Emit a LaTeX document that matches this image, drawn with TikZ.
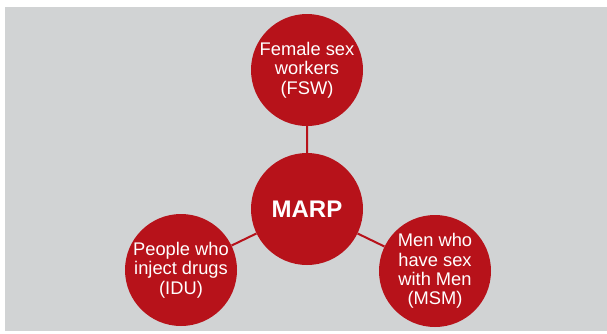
\documentclass[tikz,border=0pt]{standalone}
\usepackage{fontspec}
\setmainfont{Liberation Sans}
\usetikzlibrary{positioning}

\definecolor{marpred}{RGB}{183,18,26}
\definecolor{panelgray}{RGB}{209,211,212}

\begin{document}
\begin{tikzpicture}[x=1pt,y=-1pt,
  bubble/.style={circle, fill=marpred, text=white, minimum size=112pt,
    inner sep=0pt, align=center,
    font=\fontsize{18.3}{19.3}\selectfont},
  link/.style={draw=marpred, line width=2pt}]

% the grey panel
\useasboundingbox (0,0) rectangle (607,333);
\fill[panelgray] (5,7) rectangle (607,331);

% define the groups
  \node[bubble, font=\fontsize{24}{26}\bfseries\selectfont] (marp) at (307,209) {MARP};
  \node[bubble] (fsw) at (307,70) {Female sex\\workers\\(FSW)};
  \node[bubble] (idu) at (181,270) {People who\\inject drugs\\(IDU)};
  \node[bubble] (msm) at (435,271) {Men who\\have sex\\with Men\\(MSM)};

% define the links
  \path[link] (marp) -- (fsw)
              (marp) -- (idu)
              (marp) -- (msm);

\end{tikzpicture}
\end{document}
